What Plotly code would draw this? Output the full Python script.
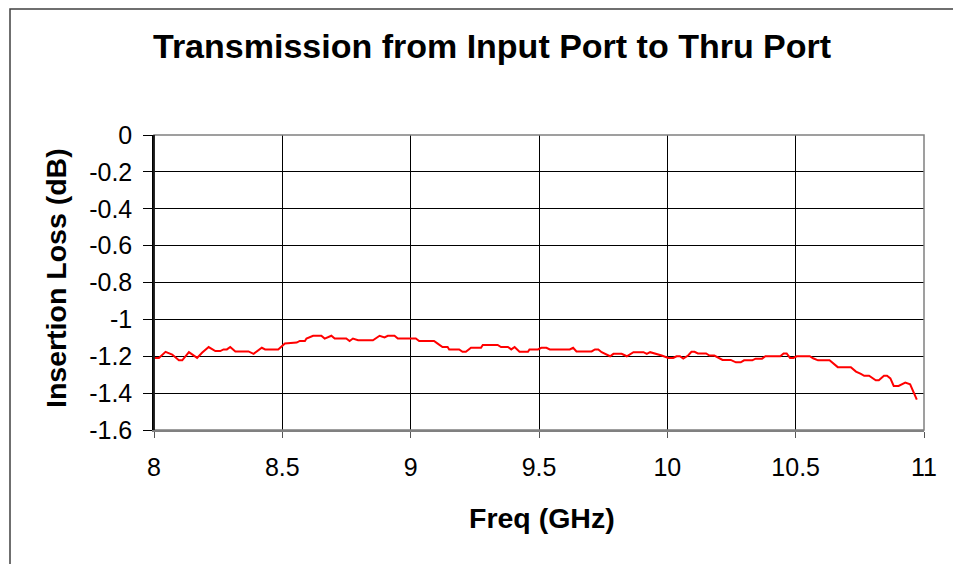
import plotly.graph_objects as go

freq_ghz = [
    8.003, 8.019, 8.045, 8.071, 8.097, 8.110, 8.136, 8.168, 8.187, 8.213, 8.239, 8.258,
    8.271, 8.284, 8.297, 8.317, 8.368, 8.388, 8.420, 8.433, 8.484, 8.510, 8.556, 8.568,
    8.588, 8.594, 8.620, 8.652, 8.665, 8.691, 8.704, 8.749, 8.762, 8.775, 8.795, 8.853,
    8.879, 8.898, 8.911, 8.937, 8.950, 8.995,
    9.020, 9.033, 9.091, 9.104, 9.124, 9.144, 9.150, 9.189, 9.202, 9.215, 9.235, 9.274,
    9.281, 9.339, 9.352, 9.379, 9.392, 9.405, 9.424, 9.457, 9.463, 9.496, 9.509, 9.529,
    9.542, 9.620, 9.633, 9.646, 9.705, 9.718, 9.731, 9.744, 9.777, 9.790, 9.822, 9.842,
    9.868, 9.907, 9.920, 9.933, 9.960, 9.973,
    9.978, 10.004, 10.023, 10.036, 10.049, 10.062, 10.081, 10.094, 10.106, 10.119, 10.151,
    10.164, 10.183, 10.215, 10.247, 10.267, 10.286, 10.299, 10.331, 10.344, 10.369, 10.382,
    10.440, 10.453, 10.465, 10.478, 10.491, 10.504, 10.555, 10.568, 10.587, 10.632, 10.664,
    10.715, 10.735, 10.754, 10.767, 10.786, 10.812, 10.824, 10.844, 10.856, 10.869, 10.882,
    10.901, 10.927, 10.946, 10.972,
]

insertion_loss_db = [
    -1.209, -1.209, -1.176, -1.191, -1.222, -1.222, -1.178, -1.209, -1.181, -1.150, -1.172, -1.172,
    -1.163, -1.163, -1.150, -1.174, -1.174, -1.187, -1.154, -1.163, -1.163, -1.131, -1.126, -1.117,
    -1.117, -1.104, -1.089, -1.089, -1.104, -1.089, -1.104, -1.104, -1.117, -1.104, -1.113, -1.113,
    -1.089, -1.098, -1.089, -1.089, -1.104, -1.104,
    -1.104, -1.117, -1.117, -1.130, -1.150, -1.150, -1.163, -1.163, -1.176, -1.176, -1.154, -1.154,
    -1.139, -1.139, -1.150, -1.150, -1.163, -1.150, -1.176, -1.176, -1.163, -1.163, -1.154, -1.154,
    -1.163, -1.163, -1.154, -1.174, -1.174, -1.163, -1.163, -1.178, -1.200, -1.187, -1.187, -1.200,
    -1.178, -1.178, -1.187, -1.178, -1.187, -1.191,
    -1.196, -1.209, -1.209, -1.200, -1.200, -1.213, -1.196, -1.176, -1.176, -1.185, -1.185,
    -1.196, -1.196, -1.220, -1.220, -1.233, -1.233, -1.222, -1.222, -1.213, -1.213, -1.200,
    -1.200, -1.185, -1.185, -1.209, -1.209, -1.200, -1.200, -1.211, -1.222, -1.222, -1.259,
    -1.259, -1.283, -1.296, -1.306, -1.306, -1.330, -1.330, -1.306, -1.306, -1.320, -1.361,
    -1.361, -1.343, -1.352, -1.435,
]

x_ticks = [8, 8.5, 9, 9.5, 10, 10.5, 11]
x_tick_labels = ["8", "8.5", "9", "9.5", "10", "10.5", "11"]
y_ticks = [0, -0.2, -0.4, -0.6, -0.8, -1, -1.2, -1.4, -1.6]
y_tick_labels = ["0", "-0.2", "-0.4", "-0.6", "-0.8", "-1", "-1.2", "-1.4", "-1.6"]

chart_title = "Transmission from Input Port to Thru Port"
x_title = "Freq (GHz)"
y_title = "Insertion Loss (dB)"

FONT = "Liberation Sans, Arial, sans-serif"

# plot area in page pixels: left 154, right 924, top 135, bottom 430 (page has 8px body offset)
PL, PW, PB, PH = 154, 770, 430, 295


def px(xp):
    return (xp - PL) / PW


def py(yp):
    return (PB - yp) / PH


fig = go.Figure()
fig.add_trace(go.Scatter(
    x=freq_ghz, y=insertion_loss_db, mode="lines",
    line=dict(color="#FF0000", width=2), showlegend=False, hoverinfo="x+y",
))

fig.update_layout(
    width=961, height=564,
    margin=dict(l=146, r=45, t=127, b=142, pad=0),
    paper_bgcolor="white", plot_bgcolor="white",
    font=dict(family=FONT, color="black"),
    showlegend=False,
    xaxis=dict(
        range=[8, 11], tickvals=x_ticks, ticktext=x_tick_labels,
        showgrid=True, gridcolor="#000000", gridwidth=1,
        ticks="outside", ticklen=6, tickcolor="#555555", tickwidth=1,
        showline=True, linecolor="#808080", linewidth=1.5,
        tickfont=dict(size=25, family=FONT), zeroline=False,
        ticklabelstandoff=8,
    ),
    yaxis=dict(
        range=[-1.6, 0], tickvals=y_ticks, ticktext=y_tick_labels,
        showgrid=True, gridcolor="#000000", gridwidth=1,
        ticks="outside", ticklen=9, tickcolor="#000000", tickwidth=1,
        showline=True, linecolor="#000000", linewidth=1.5,
        tickfont=dict(size=25, family=FONT), zeroline=False,
        ticklabelstandoff=6,
    ),
    shapes=[
        dict(type="rect", xref="paper", yref="paper", x0=0, x1=1, y0=0, y1=1,
             line=dict(color="#808080", width=1.5), layer="above"),
        dict(type="line", xref="paper", yref="paper", x0=0, x1=0, y0=0, y1=1,
             line=dict(color="#000000", width=1.5), layer="above"),
        dict(type="rect", xref="paper", yref="paper",
             x0=px(10), x1=px(1000), y0=py(620), y1=py(9),
             line=dict(color="#404040", width=1.5), layer="below"),
    ],
    annotations=[
        dict(text="<b>" + chart_title + "</b>", xref="paper", yref="paper",
             x=px(492.4), y=py(46.5), xanchor="center", yanchor="middle",
             showarrow=False, font=dict(size=34, family=FONT)),
        dict(text="<b>" + x_title + "</b>", xref="paper", yref="paper",
             x=px(541.6), y=py(518), xanchor="center", yanchor="middle",
             showarrow=False, font=dict(size=28.5, family=FONT)),
        dict(text="<b>" + y_title + "</b>", xref="paper", yref="paper",
             x=px(55.5), y=py(278.5), xanchor="center", yanchor="middle",
             textangle=-90, showarrow=False, font=dict(size=28.5, family=FONT)),
    ],
)

fig.write_html("out.html")
